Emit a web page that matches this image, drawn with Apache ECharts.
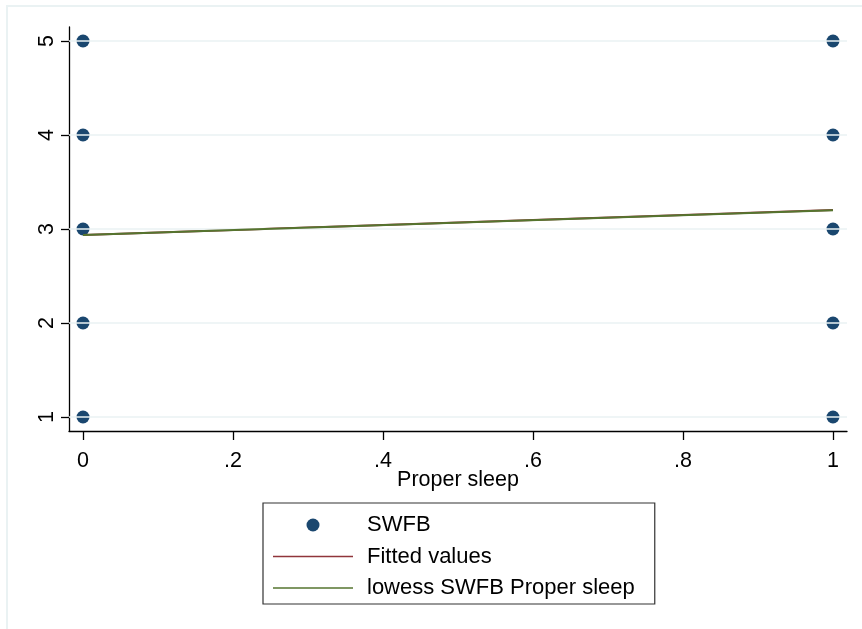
<!DOCTYPE html>
<html>
<head>
<meta charset="utf-8">
<script src="https://cdn.jsdelivr.net/npm/echarts@6/dist/echarts.min.js"></script>
<style>
  html, body { margin: 0; padding: 0; background: #fff; }
  #chart { width: 862px; height: 629px; }
</style>
</head>
<body>
<div id="chart"></div>
<script>
// Observations: proper sleep (0/1) against SWFB score
const sleepValues = [0, 0, 0, 0, 0, 1, 1, 1, 1, 1];
const swfbValues  = [1, 2, 3, 4, 5, 1, 2, 3, 4, 5];

// Linear fit and lowess smooth evaluated at x = 0 and x = 1
const fitX      = [0, 1];
const fittedY   = [2.936, 3.202];
const lowessY   = [2.935, 3.200];

// Axis ticks
const xTicks = [0, 0.2, 0.4, 0.6, 0.8, 1];
const yTicks = [1, 2, 3, 4, 5];

const seriesNames = ['SWFB', 'Fitted values', 'lowess SWFB Proper sleep'];

const FONT = 'Liberation Sans, Arial, sans-serif';
const GRID_COLOR = '#eaf2f3';
const DOT_COLOR = '#1a476f';
const FIT_COLOR = '#90353b';
const LOWESS_COLOR = '#55752f';
// thin horizontal bar used as the legend key for the two lines
const LINE_ICON = 'path://M0,0H80V1.5H0Z';

const pairs = (xs, ys) => xs.map((x, i) => [x, ys[i]]);

const chart = echarts.init(document.getElementById('chart'), null, { renderer: 'canvas' });

chart.setOption({
  backgroundColor: '#ffffff',
  animation: false,
  textStyle: { fontFamily: FONT, color: '#000' },
  graphic: [
    { type: 'line', shape: { x1: 7, y1: 5, x2: 7, y2: 629 }, style: { stroke: GRID_COLOR, lineWidth: 2 }, silent: true },
    { type: 'line', shape: { x1: 6, y1: 6, x2: 862, y2: 6 }, style: { stroke: GRID_COLOR, lineWidth: 2 }, silent: true }
  ],
  grid: { left: 69, top: 27, width: 778, height: 404, containLabel: false },
  xAxis: {
    type: 'value',
    min: -0.0187,
    max: 1.0187,
    name: 'Proper sleep',
    nameLocation: 'middle',
    nameGap: 38,
    nameMoveOverlap: false,
    nameTextStyle: { fontSize: 21.5, color: '#000', fontFamily: FONT },
    axisLine: { show: true, onZero: false, lineStyle: { color: '#000', width: 1.3 } },
    axisTick: { show: true, length: 9, customValues: xTicks, lineStyle: { color: '#000', width: 1.3 } },
    axisLabel: {
      customValues: xTicks,
      margin: 19,
      fontSize: 21.5,
      color: '#000',
      fontFamily: FONT,
      formatter: v => (v === 0 ? '0' : v === 1 ? '1' : String(Math.round(v * 10) / 10).replace(/^0/, ''))
    },
    splitLine: { show: false }
  },
  yAxis: {
    type: 'value',
    min: 0.851,
    max: 5.149,
    axisLine: { show: true, onZero: false, lineStyle: { color: '#000', width: 1.3 } },
    axisTick: { show: true, length: 8, customValues: yTicks, lineStyle: { color: '#000', width: 1.3 } },
    axisLabel: {
      customValues: yTicks,
      rotate: 90,
      margin: 11,
      fontSize: 21.5,
      color: '#000',
      fontFamily: FONT
    },
    splitLine: { show: false }
  },
  legend: {
    orient: 'vertical',
    left: 263,
    top: 503,
    padding: [11, 20, 5, 10],
    itemWidth: 80,
    itemHeight: 13,
    itemGap: 9.5,
    borderColor: '#333',
    borderWidth: 1.2,
    textStyle: { fontSize: 22, color: '#000', fontFamily: FONT, padding: [0, 0, 0, 9] },
    data: [
      { name: seriesNames[0], icon: 'circle', itemStyle: { color: DOT_COLOR } },
      { name: seriesNames[1], icon: LINE_ICON, itemStyle: { color: FIT_COLOR } },
      { name: seriesNames[2], icon: LINE_ICON, itemStyle: { color: LOWESS_COLOR } }
    ]
  },
  series: [
    {
      name: seriesNames[0],
      type: 'scatter',
      data: pairs(sleepValues, swfbValues),
      symbol: 'circle',
      symbolSize: 13,
      itemStyle: { color: DOT_COLOR, opacity: 1 },
      z: 3,
      markLine: {
        silent: true,
        symbol: 'none',
        label: { show: false },
        lineStyle: { color: GRID_COLOR, width: 1.5, type: 'solid' },
        emphasis: { disabled: true },
        data: yTicks.map(v => ({ yAxis: v }))
      }
    },
    {
      name: seriesNames[1],
      type: 'line',
      data: pairs(fitX, fittedY),
      symbol: 'none',
      lineStyle: { color: FIT_COLOR, width: 2 },
      itemStyle: { color: FIT_COLOR },
      z: 4
    },
    {
      name: seriesNames[2],
      type: 'line',
      data: pairs(fitX, lowessY),
      symbol: 'none',
      lineStyle: { color: LOWESS_COLOR, width: 2 },
      itemStyle: { color: LOWESS_COLOR },
      z: 5
    }
  ]
});
</script>
</body>
</html>
